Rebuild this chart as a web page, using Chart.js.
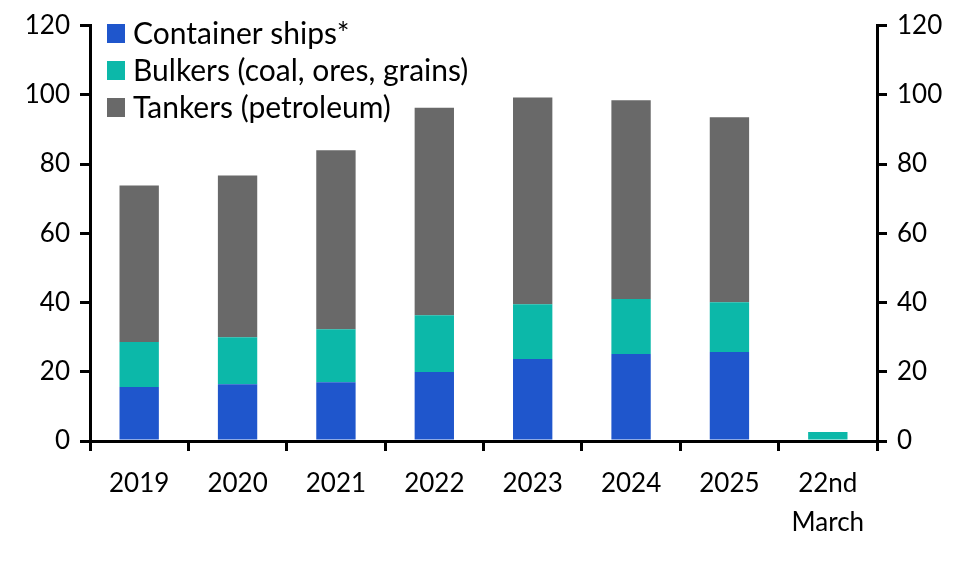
<!DOCTYPE html>
<html>
<head>
<meta charset="utf-8">
<script src="https://cdn.jsdelivr.net/npm/chart.js@4/dist/chart.umd.min.js"></script>
<style>
  html, body { margin: 0; padding: 0; background: #fff; }
  #wrap { width: 974px; height: 567px; }
</style>
</head>
<body>
<div id="wrap"><canvas id="shipChart"></canvas></div>
<script>
const categories = ['2019', '2020', '2021', '2022', '2023', '2024', '2025', ['22nd', 'March']];
const containerShips = [15.6, 16.4, 17.0, 19.9, 23.7, 25.1, 25.7, 0];
const bulkers = [13.0, 13.6, 15.3, 16.4, 15.8, 15.9, 14.4, 2.6];
const tankers = [45.2, 46.7, 51.7, 60.0, 59.7, 57.4, 53.4, 0];
const yTicks = [0, 20, 40, 60, 80, 100, 120];

const FONT = 'Lato, "Noto Sans", sans-serif';

// legend drawn inside the plot, top-left
const insideLegend = {
    id: 'insideLegend',
    afterDraw(chart) {
        const c = chart.ctx;
        const left = chart.chartArea.left + 17;
        c.save();
        c.font = '30px ' + FONT;
        c.textBaseline = 'middle';
        chart.data.datasets.forEach((ds, i) => {
            const y = 33 + i * 37;
            c.fillStyle = ds.backgroundColor;
            c.fillRect(left, y - 9, 18, 19);
            c.fillStyle = '#000';
            c.fillText(ds.label, left + 26, y + 1);
        });
        c.restore();
    }
};

const axisGrid = {
    drawOnChartArea: false,
    color: '#000',
    lineWidth: 3,
    tickLength: 10
};

new Chart(document.getElementById('shipChart').getContext('2d'), {
    type: 'bar',
    data: {
        labels: categories,
        datasets: [
            { label: 'Container ships*', data: containerShips, backgroundColor: '#1f56cc' },
            { label: 'Bulkers (coal, ores, grains)', data: bulkers, backgroundColor: '#0cb8a9' },
            { label: 'Tankers (petroleum)', data: tankers, backgroundColor: '#696969' }
        ]
    },
    options: {
        responsive: true,
        maintainAspectRatio: false,
        animation: false,
        layout: { padding: { top: 25, bottom: 0, left: 0, right: 0 } },
        datasets: {
            bar: { barPercentage: 0.4, categoryPercentage: 1.0 }
        },
        plugins: {
            legend: { display: false },
            tooltip: { enabled: false }
        },
        scales: {
            x: {
                stacked: true,
                grid: Object.assign({ offset: true }, axisGrid),
                border: { display: true, color: '#000', width: 3 },
                ticks: { color: '#000', font: { family: FONT, size: 26, lineHeight: 1.5 }, padding: 13, maxRotation: 0 },
                afterFit(s) { s.height = 126; }
            },
            y: {
                stacked: true,
                position: 'left',
                min: 0, max: 120,
                afterBuildTicks(s) { s.ticks = yTicks.map(v => ({ value: v })); },
                grid: axisGrid,
                border: { display: true, color: '#000', width: 3 },
                ticks: { color: '#000', font: { family: FONT, size: 26 }, padding: 10 },
                afterFit(s) { s.width = 90; }
            },
            y2: {
                position: 'right',
                min: 0, max: 120,
                afterBuildTicks(s) { s.ticks = yTicks.map(v => ({ value: v })); },
                grid: axisGrid,
                border: { display: true, color: '#000', width: 3 },
                ticks: { color: '#000', font: { family: FONT, size: 26 }, padding: 10 },
                afterFit(s) { s.width = 97; }
            }
        }
    },
    plugins: [insideLegend]
});
</script>
</body>
</html>
